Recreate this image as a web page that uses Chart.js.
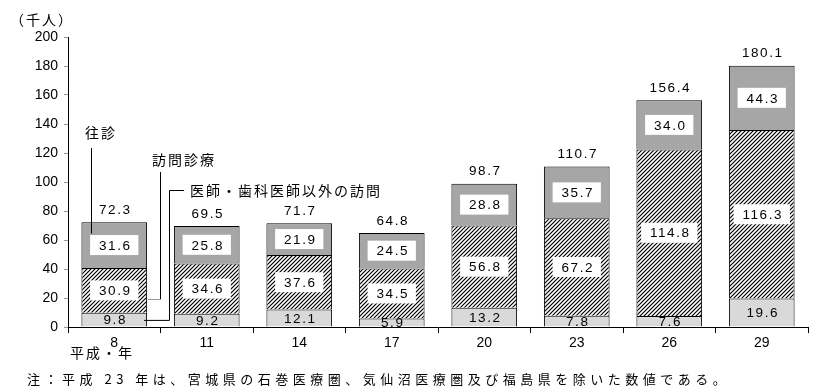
<!DOCTYPE html>
<html>
<head>
<meta charset="utf-8">
<script src="https://cdn.jsdelivr.net/npm/chart.js@4.4.1/dist/chart.umd.min.js"></script>
<style>
    html, body { margin: 0; padding: 0; background: #fff; }
    #wrap { width: 840px; height: 392px; position: relative; }
</style>
</head>
<body>
<div id="wrap"><canvas id="chart"></canvas></div>
<script>
// 平成・年
const years = ['8', '11', '14', '17', '20', '23', '26', '29'];
// 医師・歯科医師以外の訪問
const otherVisits = [9.8, 9.2, 12.1, 5.9, 13.2, 7.8, 7.6, 19.6];
// 訪問診療
const homeCare = [30.9, 34.6, 37.6, 34.5, 56.8, 67.2, 114.8, 116.3];
// 往診
const houseCalls = [31.6, 25.8, 21.9, 24.5, 28.8, 35.7, 34.0, 44.3];
// 合計
const totals = [72.3, 69.5, 71.7, 64.8, 98.7, 110.7, 156.4, 180.1];

const numFont = '"Liberation Sans", Arial, sans-serif';
const jpFont = '"Noto Sans CJK JP", sans-serif';

const canvas = document.getElementById('chart');
const ctx = canvas.getContext('2d');

// 斜線パターン
function makeHatch() {
    const tile = document.createElement('canvas');
    tile.width = 4;
    tile.height = 4;
    const t = tile.getContext('2d');
    t.fillStyle = '#fff';
    t.fillRect(0, 0, 4, 4);
    t.strokeStyle = '#000';
    t.lineWidth = 1.2;
    t.beginPath();
    t.moveTo(0, 4); t.lineTo(4, 0);
    t.moveTo(-1, 1); t.lineTo(1, -1);
    t.moveTo(3, 5); t.lineTo(5, 3);
    t.stroke();
    return ctx.createPattern(tile, 'repeat');
}

// ラベル・合計・注記
const labelPlugin = {
    id: 'labels',
    afterDatasetsDraw(chart) {
        const c = chart.ctx;
        c.save();
        c.font = '13.5px ' + numFont;
        c.letterSpacing = '1.5px';
        c.textAlign = 'center';
        c.textBaseline = 'middle';
        chart.data.datasets.forEach((ds, di) => {
            const meta = chart.getDatasetMeta(di);
            meta.data.forEach((bar, i) => {
                const cy = (bar.y + bar.base) / 2;
                const txt = ds.data[i].toFixed(1);
                if (di > 0) {
                    const w = c.measureText(txt).width + 16;
                    c.fillStyle = '#fff';
                    c.fillRect(bar.x - w / 2, cy - 10, w, 20);
                }
                c.fillStyle = '#000';
                c.fillText(txt, bar.x + 1, cy + 1);
            });
        });
        const top = chart.getDatasetMeta(2);
        top.data.forEach((bar, i) => {
            c.fillText(totals[i].toFixed(1), bar.x + 1, bar.y - 12);
        });
        c.restore();
    },
    afterDraw(chart) {
        const c = chart.ctx;
        const y = chart.scales.y;
        const bar0 = chart.getDatasetMeta(0).data[0];
        const right = bar0.x + bar0.width / 2;
        c.save();
        c.fillStyle = '#000';
        c.textBaseline = 'middle';
        c.textAlign = 'left';
        c.font = '14px ' + jpFont;
        c.letterSpacing = '2px';
        c.fillText('往診', 85, 133);
        c.fillText('訪問診療', 152, 160);
        c.fillText('医師・歯科医師以外の訪問', 190, 191);
        c.fillText('（千人）', 10, 20);
        c.fillText('平成・年', 70, 353);
        c.font = '13px ' + jpFont;
        c.letterSpacing = '4.5px';
        c.fillText('注：平成 23 年は、宮城県の石巻医療圏、気仙沼医療圏及び福島県を除いた数値である。', 27, 379);

        c.strokeStyle = '#000';
        c.lineWidth = 1;
        c.beginPath();
        // 往診
        c.moveTo(91.5, 148);
        c.lineTo(91.5, y.getPixelForValue(otherVisits[0] + homeCare[0] + houseCalls[0] * 0.75));
        // 訪問診療
        c.moveTo(160.5, 172);
        c.lineTo(160.5, y.getPixelForValue(otherVisits[0] + homeCare[0] * 0.3));
        // 以外の訪問
        c.moveTo(184, 190.5);
        c.lineTo(169.5, 190.5);
        c.lineTo(169.5, y.getPixelForValue(otherVisits[0] / 2) + 0.5);
        c.lineTo(right - 3, y.getPixelForValue(otherVisits[0] / 2) + 0.5);
        c.stroke();
        c.strokeStyle = '#999';
        c.beginPath();
        const hy = Math.round(y.getPixelForValue(otherVisits[0] + homeCare[0] * 0.3)) + 0.5;
        c.moveTo(160.5, hy);
        c.lineTo(right + 1, hy);
        c.stroke();
        c.restore();
    }
};

const hatch = makeHatch();

new Chart(canvas, {
    type: 'bar',
    data: {
        labels: years,
        datasets: [
            {
                label: '医師・歯科医師以外の訪問',
                data: otherVisits,
                backgroundColor: '#d9d9d9',
                borderColor: '#000',
                borderWidth: 1
            },
            {
                label: '訪問診療',
                data: homeCare,
                backgroundColor: hatch,
                borderColor: '#000',
                borderWidth: 1
            },
            {
                label: '往診',
                data: houseCalls,
                backgroundColor: '#a6a6a6',
                borderColor: '#000',
                borderWidth: 1
            }
        ]
    },
    options: {
        responsive: true,
        maintainAspectRatio: false,
        animation: false,
        layout: { padding: { top: 37, right: 32, left: 0, bottom: 0 } },
        datasets: { bar: { categoryPercentage: 1, barPercentage: 0.71 } },
        scales: {
            x: {
                stacked: true,
                grid: { display: true, offset: true, drawOnChartArea: false, tickLength: 6, color: '#000' },
                border: { color: '#000' },
                ticks: { color: '#000', font: { family: numFont, size: 14 }, padding: 2 },
                afterFit: s => { s.height = 65; }
            },
            y: {
                stacked: true,
                min: 0,
                max: 200,
                ticks: { stepSize: 20, color: '#000', font: { family: numFont, size: 14 }, padding: 6 },
                grid: { drawOnChartArea: false, tickLength: 4, color: '#999' },
                border: { color: '#000' },
                afterFit: s => { s.width = 68; }
            }
        },
        plugins: {
            legend: { display: false },
            tooltip: { enabled: false }
        }
    },
    plugins: [labelPlugin]
});
</script>
</body>
</html>
